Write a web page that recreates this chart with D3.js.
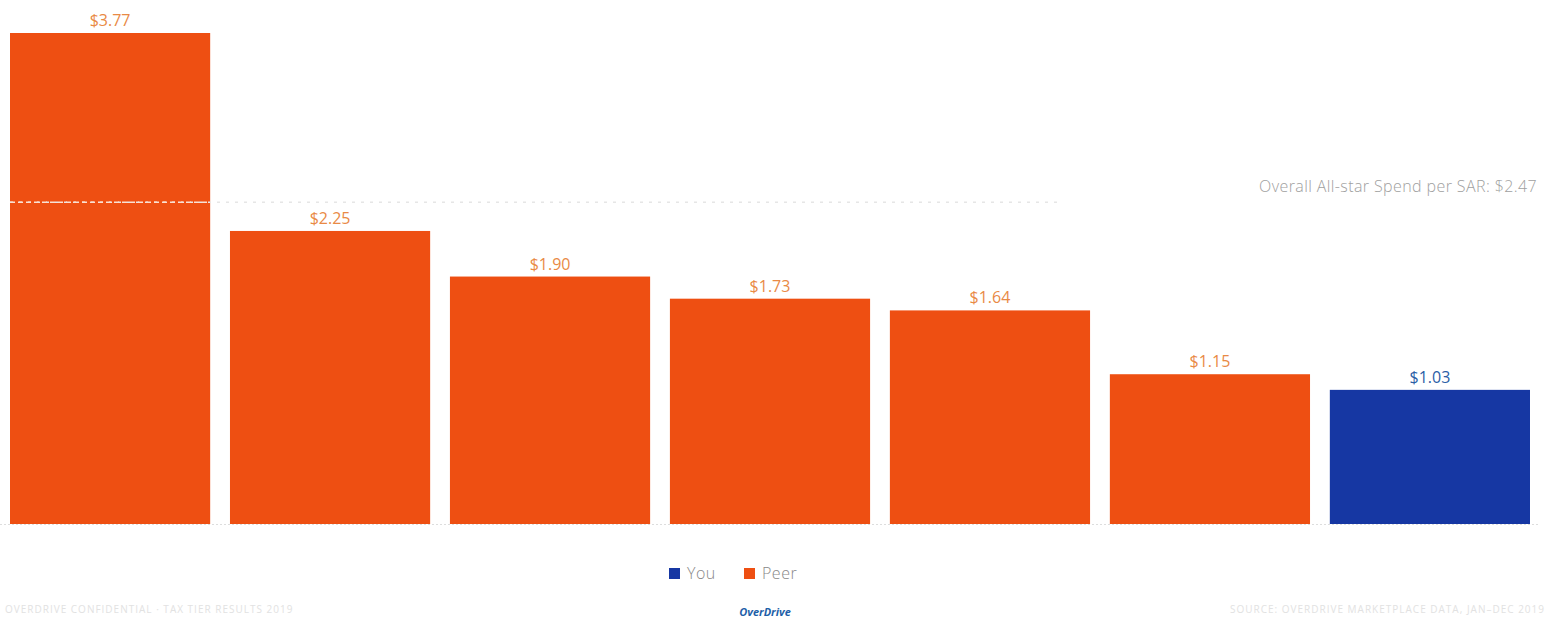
<!DOCTYPE html>
<html><head><meta charset="utf-8">
<script src="https://cdn.jsdelivr.net/npm/d3@7"></script>
<style>body{margin:0;background:#fff;}svg{display:block;}</style>
</head><body>
<svg id="c" width="1553" height="621"></svg>
<script>
const categories = ["Peer 1","Peer 2","Peer 3","Peer 4","Peer 5","Peer 6","You"];
const values = [3.77, 2.25, 1.90, 1.73, 1.64, 1.15, 1.03];
const groups = ["Peer","Peer","Peer","Peer","Peer","Peer","You"];
const overall = 2.47;
const overallLabel = "Overall All-star Spend per SAR: $2.47";
const legendItems = ["You","Peer"];
const footerLeft = "OVERDRIVE CONFIDENTIAL · TAX TIER RESULTS 2019";
const footerRight = "SOURCE: OVERDRIVE MARKETPLACE DATA, JAN–DEC 2019";

const colors = {You:"#1637a3", Peer:"#ee4f12"};
const labelColors = {You:"#2a5ea6", Peer:"#e98a45"};
const svg = d3.select("#c");
const x = d3.scaleBand().domain(categories).range([10,1530]).paddingInner(0.09).paddingOuter(0);
const y = d3.scaleLinear().domain([0,3.77]).range([524,33]);
const font = "'Open Sans', Lato, sans-serif";

// baseline
svg.append("line").attr("x1",0).attr("x2",1540).attr("y1",y(0)+0.5).attr("y2",y(0)+0.5)
  .attr("stroke","#ddd").attr("stroke-dasharray","2,2");

svg.selectAll("rect.bar").data(values).join("rect").attr("class","bar")
  .attr("x",(d,i)=>x(categories[i])).attr("width",x.bandwidth())
  .attr("y",d=>y(d)).attr("height",d=>y(0)-y(d))
  .attr("fill",(d,i)=>colors[groups[i]]);

svg.selectAll("text.val").data(values).join("text").attr("class","val")
  .attr("x",(d,i)=>x(categories[i])+x.bandwidth()/2).attr("y",d=>y(d)-7)
  .attr("text-anchor","middle").attr("font-family",font).attr("font-size",16).attr("font-weight",400)
  .attr("fill",(d,i)=>labelColors[groups[i]]).text(d=>"$"+d.toFixed(2));

// reference line
svg.append("line").attr("x1",10).attr("x2",1060).attr("y1",y(overall)).attr("y2",y(overall))
  .attr("stroke","#e6e6e6").attr("stroke-width",1.5).attr("stroke-dasharray","3,6");
svg.append("line").attr("x1",x(categories[0])).attr("x2",x(categories[0])+x.bandwidth())
  .attr("y1",y(overall)).attr("y2",y(overall))
  .attr("stroke","#fbe0d0").attr("stroke-width",1.5).attr("stroke-dasharray","5,3");
svg.append("text").attr("x",1537).attr("y",y(overall)-10).attr("text-anchor","end")
  .attr("font-family",font).attr("font-size",16).attr("font-weight",300).attr("letter-spacing",0.4)
  .attr("fill","#a0a0a0").text(overallLabel);

// legend
const lg = svg.append("g");
const lx = [669, 744];
legendItems.forEach((k,i)=>{
  lg.append("rect").attr("x",lx[i]).attr("y",568).attr("width",11).attr("height",11).attr("fill",colors[k]);
  lg.append("text").attr("x",lx[i]+18).attr("y",579).attr("font-family",font).attr("font-size",16)
    .attr("font-weight",300).attr("letter-spacing",0.5).attr("fill","#888").text(k);
});

// footer
svg.append("text").attr("x",765).attr("y",616).attr("text-anchor","middle")
  .attr("font-family",font).attr("font-size",11).attr("font-style","italic").attr("font-weight","bold")
  .attr("fill","#1e5fa8").text("OverDrive");
svg.append("text").attr("x",5).attr("y",613).attr("font-family",font).attr("font-size",10)
  .attr("letter-spacing",1).attr("fill","#e2e2e2").text(footerLeft);
svg.append("text").attr("x",1545).attr("y",613).attr("text-anchor","end").attr("font-family",font).attr("font-size",10)
  .attr("letter-spacing",1).attr("fill","#e2e2e2").text(footerRight);
</script>
</body></html>
